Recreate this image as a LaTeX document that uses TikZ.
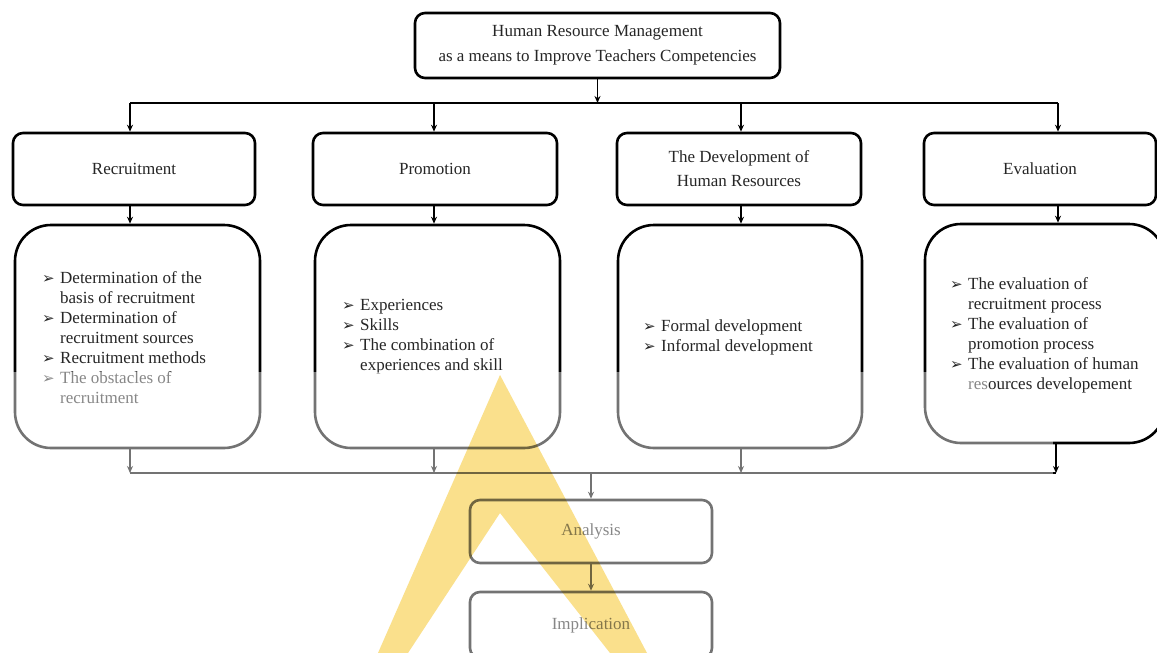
\documentclass[tikz,border=0pt]{standalone}
\usepackage{fontspec}
\setmainfont{Liberation Serif}
\newfontfamily\dejavu{DejaVu Sans}
\usetikzlibrary{arrows.meta}
\newcommand\bul{\makebox[18pt][l]{\dejavu\fontsize{15}{15}\selectfont ➢}}
\newcommand\ind{\hspace*{18pt}}
\tikzset{
  box/.style={draw=black, line width=2.6pt, rounded corners=10pt, align=center, inner sep=0pt,
    font=\fontsize{17}{24}\selectfont, text=black!85},
  bigbox/.style={draw=black, line width=2.6pt, rounded corners=36pt, inner sep=0pt},
  conn/.style={line width=1.7pt, draw=black},
  arr/.style={conn, -{Stealth[length=7pt,width=6pt]}},
  itemlist/.style={align=left, inner sep=0pt, anchor=west, font=\fontsize{17}{20}\selectfont, text=black!85},
}
\definecolor{wm}{RGB}{250,224,140}
\begin{document}
\begin{tikzpicture}[x=1pt,y=-1pt]
\useasboundingbox (0,0) rectangle (1157,653);
\clip (0,0) rectangle (1157,653);
\fill[white] (0,0) rectangle (1157,653);

% column coordinates
\coordinate (h1) at (130,103);
\coordinate (h2) at (434,103);
\coordinate (h3) at (741,103);
\coordinate (h4) at (1058,103);
\coordinate (b1) at (130,473);
\coordinate (b2) at (434,473);
\coordinate (b3) at (741,473);
\coordinate (b4) at (1056,473);

% top
\node[box, minimum width=365pt, minimum height=65pt, font=\fontsize{17}{25}\selectfont] (top) at (597.5,45.5)
  {Human Resource Management\\as a means to Improve Teachers Competencies};

% row 2
\node[box, minimum width=242pt, minimum height=72pt] (r2a) at (134,169) {Recruitment};
\node[box, minimum width=244pt, minimum height=72pt] (r2b) at (435,169) {Promotion};
\node[box, minimum width=244pt, minimum height=72pt] (r2c) at (739,169) {The Development of\\Human Resources};
\node[box, minimum width=232pt, minimum height=72pt] (r2d) at (1040,169) {Evaluation};

% row 3
\node[bigbox, minimum width=245pt, minimum height=223pt] (r3a) at (137.5,336.5) {};
\node[bigbox, minimum width=245pt, minimum height=223pt] (r3b) at (437.5,336.5) {};
\node[bigbox, minimum width=244pt, minimum height=223pt] (r3c) at (740,336.5) {};
\node[bigbox, minimum width=240pt, minimum height=219pt] (r3d) at (1045,333.5) {};

\node[itemlist] (la) at (42,338) {\bul Determination of the\\ \ind basis of recruitment\\
  \bul Determination of\\ \ind recruitment sources\\ \bul Recruitment methods\\
  \bul The obstacles of\\ \ind recruitment};
\node[itemlist] (lb) at (342,337) {\bul Experiences\\ \bul Skills\\ \bul The combination of\\ \ind experiences and skill};
\node[itemlist] (lc) at (643,337) {\bul Formal development\\ \bul Informal development};
\node[itemlist] (ld) at (950,335) {\bul The evaluation of\\ \ind recruitment process\\
  \bul The evaluation of\\ \ind promotion process\\ \bul The evaluation of human\\ \ind resources developement};

% bottom
\node[box, minimum width=242pt, minimum height=63pt] (ana) at (591,531.5) {Analysis};
\node[box, minimum width=242pt, minimum height=66pt] (imp) at (591,625) {Implication};

% connectors
\draw[arr] (top.south) -- (top.south |- h1);
\draw[conn] (h1) -- (h4);
\draw[arr] (h1) -- (r2a.north -| h1);
\draw[arr] (h2) -- (r2b.north -| h2);
\draw[arr] (h3) -- (r2c.north -| h3);
\draw[arr] (h4) -- (r2d.north -| h4);
\draw[arr] (r2a.south -| h1) -- (r3a.north -| h1);
\draw[arr] (r2b.south -| h2) -- (r3b.north -| h2);
\draw[arr] (r2c.south -| h3) -- (r3c.north -| h3);
\draw[arr] (r2d.south -| h4) -- (r3d.north -| h4);
\draw[arr] (r3a.south -| b1) -- (b1);
\draw[arr] (r3b.south -| b2) -- (b2);
\draw[arr] (r3c.south -| b3) -- (b3);
\draw[arr] (r3d.south -| b4) -- (b4);
\draw[conn] (b1) -- (b4);
\draw[arr] (ana.north |- b1) -- (ana.north);
\draw[arr] (ana.south) -- (imp.north);

% faded lower part
\fill[white, opacity=0.45] (0,372) rectangle (988,653);
\fill[white, opacity=0.45] (988,395) rectangle (1053,653);

% watermark
\begin{scope}[blend mode=multiply]
\fill[wm, even odd rule] (500,375) -- (378,653) -- (647,653) -- cycle
  (500,513) -- (408,653) -- (610,653) -- cycle;
\end{scope}
\end{tikzpicture}
\end{document}
